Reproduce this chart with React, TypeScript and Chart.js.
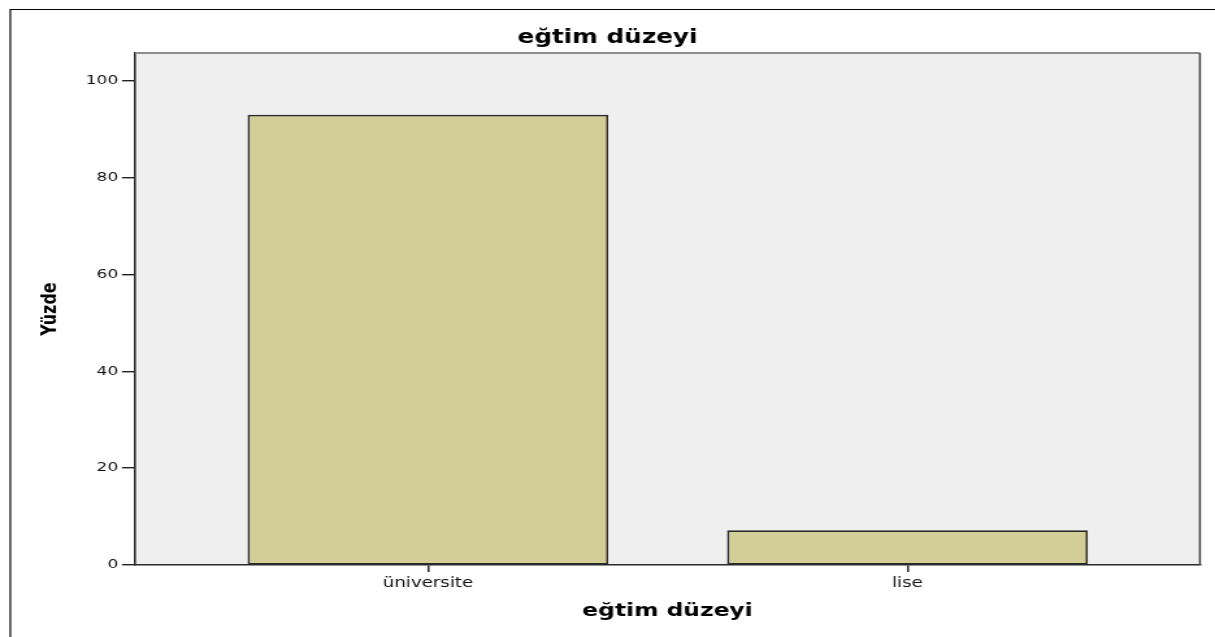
import React, { useEffect, useRef } from "react";
import { Chart, registerables } from "chart.js";

Chart.register(...registerables);

const categories = ["üniversite", "lise"];
const percentValues = [92.9, 7.1];
const yTickValues = [0, 20, 40, 60, 80, 100];
const chartTitle = "eğtim düzeyi";
const xAxisTitle = "eğtim düzeyi";
const yAxisTitle = "Yüzde";

const W = 935;
const H = 637;
const DISPLAY_W = 1215;

const framePlugin = {
  id: "spssFrame",
  beforeDraw(chart: any) {
    const { ctx, chartArea: a } = chart;
    ctx.save();
    ctx.fillStyle = "#ffffff";
    ctx.fillRect(0, 0, chart.width, chart.height);
    ctx.strokeStyle = "#000";
    ctx.lineWidth = 1.2;
    ctx.beginPath();
    ctx.moveTo(7.9, H + 2);
    ctx.lineTo(7.9, 9.5);
    ctx.lineTo(W + 2, 9.5);
    ctx.stroke();
    ctx.fillStyle = "#efefef";
    ctx.fillRect(a.left, a.top, a.right - a.left, a.bottom - a.top);
    ctx.restore();
  },
  afterDraw(chart: any) {
    const { ctx, chartArea: a } = chart;
    ctx.save();
    ctx.lineWidth = 1.8;
    ctx.strokeStyle = "#8c8c8c";
    ctx.beginPath();
    ctx.moveTo(a.left, a.top);
    ctx.lineTo(a.right, a.top);
    ctx.stroke();
    ctx.strokeStyle = "#444";
    ctx.lineWidth = 1.5;
    ctx.beginPath();
    ctx.moveTo(a.right, a.top);
    ctx.lineTo(a.right, a.bottom);
    ctx.stroke();
    ctx.restore();
  },
};

export default function App() {
  const ref = useRef<HTMLCanvasElement | null>(null);

  useEffect(() => {
    if (!ref.current) return;
    const chart = new Chart(ref.current, {
      type: "bar",
      data: {
        datasets: [
          {
            data: categories.map((c, i) => ({ x: i, y: percentValues[i] })),
            backgroundColor: "#d3ce97",
            borderColor: "#2a2a2a",
            borderWidth: 1.6,
            borderSkipped: false,
            barThickness: 277,
          } as any,
        ],
      },
      options: {
        animation: false,
        responsive: false,
        devicePixelRatio: 1,
        layout: { padding: { left: 11.6, right: 11.6, top: 0, bottom: 0 } },
        plugins: {
          legend: { display: false },
          tooltip: { enabled: false },
          title: {
            display: true,
            text: chartTitle,
            color: "#000",
            font: { family: "DejaVu Sans", size: 19, weight: "bold", lineHeight: 1.2 },
            padding: { top: 26.6, bottom: 3.6 },
          },
        },
        scales: {
          x: {
            type: "linear",
            offset: false,
            min: -0.611,
            max: 1.61,
            afterBuildTicks: (s: any) => {
              s.ticks = categories.map((_, i) => ({ value: i }));
            },
            afterFit: (s: any) => {
              s.height = 72;
            },
            grid: {
              display: true,
              offset: false,
              drawOnChartArea: false,
              drawTicks: true,
              tickLength: 7,
              color: "#222",
              lineWidth: 1.5,
            },
            border: { display: true, color: "#2a2a2a", width: 1.6 },
            ticks: {
              callback: (v: any) => categories[v as number] ?? "",
              color: "#111",
              font: { family: "DejaVu Sans", size: 14 },
              padding: 3,
              maxRotation: 0,
              autoSkip: false,
            },
            title: {
              display: true,
              text: xAxisTitle,
              color: "#000",
              font: { family: "DejaVu Sans", size: 18, weight: "bold", lineHeight: 1.2 },
              padding: { top: 4, bottom: 15.2 },
            },
          },
          y: {
            min: 0,
            max: 105.7,
            afterBuildTicks: (s: any) => {
              s.ticks = yTickValues.map((v) => ({ value: v }));
            },
            afterFit: (s: any) => {
              s.width = 92.3;
            },
            grid: {
              display: true,
              drawOnChartArea: false,
              drawTicks: true,
              tickLength: 10,
              color: "#222",
              lineWidth: 1.4,
            },
            border: { display: true, color: "#2a2a2a", width: 1.6 },
            ticks: {
              color: "#111",
              font: { family: "DejaVu Sans", size: 13 },
              padding: 3,
            },
            title: {
              display: true,
              text: yAxisTitle,
              color: "#000",
              font: { family: "DejaVu Sans", size: 16, weight: "bold", lineHeight: 1.2 },
              padding: { top: 17.4, bottom: 0 },
            },
          },
        },
      } as any,
      plugins: [framePlugin],
    });
    return () => chart.destroy();
  }, []);

  return (
    <div
      style={{
        position: "fixed",
        left: 0,
        top: 0,
        width: DISPLAY_W,
        height: H,
        background: "#fff",
      }}
    >
      <canvas
        ref={ref}
        width={W}
        height={H}
        style={{ width: `${DISPLAY_W}px`, height: `${H}px`, display: "block" }}
      />
    </div>
  );
}
